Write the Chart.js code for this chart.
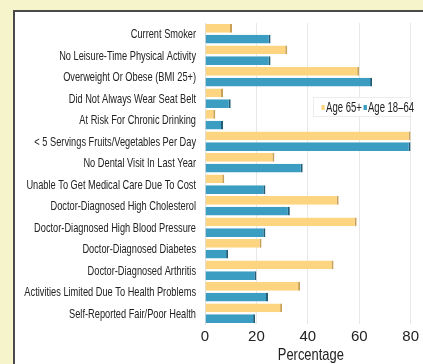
<!DOCTYPE html>
<html>
<head>
<meta charset="utf-8">
<script src="https://cdn.jsdelivr.net/npm/chart.js@4"></script>
<style>
  html, body { margin: 0; padding: 0; }
  body { width: 423px; height: 364px; background: #f6f4cb; position: relative; overflow: hidden; }
  #panel {
    position: absolute; left: 13px; top: 10px; width: 410px; height: 354px;
    background: #ffffff; border-left: 2px solid #4a4a4a; border-top: 2px solid #4a4a4a;
  }
  #wrap { position: absolute; left: 0; top: 0; width: 408px; height: 352px; }
  #legend {
    position: absolute; left: 298px; top: 85px; width: 96px; height: 18px;
    border: 1px solid #ececec; background: #fff;
  }
  #legend .in {
    position: absolute; left: 6px; top: 1px; white-space: nowrap;
    font: 14px "Liberation Sans", sans-serif; color: #222; line-height: 16px;
    transform: scaleX(0.68); transform-origin: 0 0;
  }
  #legend span.sw { display: inline-block; width: 5px; height: 5px; margin: 0 2px 2px 2px; vertical-align: middle; }
</style>
</head>
<body>
<div id="panel">
  <div id="wrap"><canvas id="chart"></canvas></div>
  <div id="legend"><div class="in"></div></div>
</div>
<script>
const categories = [
    "Current Smoker",
    "No Leisure-Time Physical Activity",
    "Overweight Or Obese (BMI 25+)",
    "Did Not Always Wear Seat Belt",
    "At Risk For Chronic Drinking",
    "< 5 Servings Fruits/Vegetables Per Day",
    "No Dental Visit In Last Year",
    "Unable To Get Medical Care Due To Cost",
    "Doctor-Diagnosed High Cholesterol",
    "Doctor-Diagnosed High Blood Pressure",
    "Doctor-Diagnosed Diabetes",
    "Doctor-Diagnosed Arthritis",
    "Activities Limited Due To Health Problems",
    "Self-Reported Fair/Poor Health"
];

const age65 =
    [10.5, 32, 60, 7, 4, 80, 27, 7.5, 52, 59, 22, 50, 37, 30];

const age1864 =
    [25.5, 25.5, 65, 10, 7, 80, 38, 23.5, 33, 23.5, 9, 20, 24.5, 19.5];

const seriesNames = ["Age 65+", "Age 18\u201364"];

const xTicks = [0, 20, 40, 60, 80];

const axisTitle = "Percentage";

const yellow = "#fdd580";
const blue = "#3a9dc1";


// condensed text: no narrow font installed, so squeeze a normal one
function narrowText(ctx, text, x, y, size, sx, align) {
    ctx.save();
    ctx.font = size + "px 'Liberation Sans', Arial, sans-serif";
    ctx.fillStyle = "#222";
    ctx.textAlign = align;
    ctx.textBaseline = "middle";
    ctx.translate(x, y);
    ctx.scale(sx, 1);
    ctx.fillText(text, 0, 0);
    ctx.restore();
}

const labelPlugin = {
    id: "narrowLabels",
    afterDraw(c) {
        const ctx = c.ctx;
        const ys = c.scales.y;
        const xs = c.scales.x;
        categories.forEach((lab, i) => {
            narrowText(ctx, lab, ys.right - 9, ys.getPixelForTick(i) + 1, 13.5, 0.685, "right");
        });
        narrowText(ctx, axisTitle, (xs.left + xs.right) / 2 + 3, xs.bottom - 9, 17, 0.76, "center");
    }
};


const chart = new Chart(document.getElementById("chart"), {

    type: "bar",

    data: {
        labels: categories,
        datasets: [
            {
                label: seriesNames[0],
                data: age65,
                backgroundColor: yellow,
                borderColor: "#c8a058",
                borderWidth: { top: 0, right: 2, bottom: 0, left: 0 },
                borderSkipped: false
            },
            {
                label: seriesNames[1],
                data: age1864,
                backgroundColor: blue,
                borderColor: "#1f5d78",
                borderWidth: { top: 0, right: 2, bottom: 0, left: 0 },
                borderSkipped: false
            }
        ]
    },

    options: {
        indexAxis: "y",
        responsive: true,
        maintainAspectRatio: false,
        animation: false,
        layout: { padding: { top: 11, right: 10, left: 0, bottom: 0 } },
        datasets: {
            bar: { barPercentage: 0.82, categoryPercentage: 1.0 }
        },
        plugins: {
            legend: { display: false },
            tooltip: { enabled: false }
        },
        scales: {
            x: {
                min: 0,
                max: 80,
                afterBuildTicks: (s) => { s.ticks = xTicks.map(v => ({ value: v })); },
                grid: { color: "#e8e8e8", drawTicks: false },
                border: { display: false },
                ticks: {
                    color: "#222",
                    padding: 4,
                    font: { family: "Liberation Sans", size: 15 }
                },
                afterFit: (s) => { s.height = 40; }
            },
            y: {
                grid: { display: false },
                border: { color: "#e0e0e0" },
                ticks: { display: false },
                afterFit: (s) => { s.width = 190; }
            }
        }
    },

    plugins: [labelPlugin]
});


const legendEl = document.querySelector("#legend .in");
[yellow, blue].forEach((c, i) => {
    const sw = document.createElement("span");
    sw.className = "sw";
    sw.style.background = c;
    legendEl.appendChild(sw);
    legendEl.appendChild(document.createTextNode(seriesNames[i]));
});
</script>
</body>
</html>
